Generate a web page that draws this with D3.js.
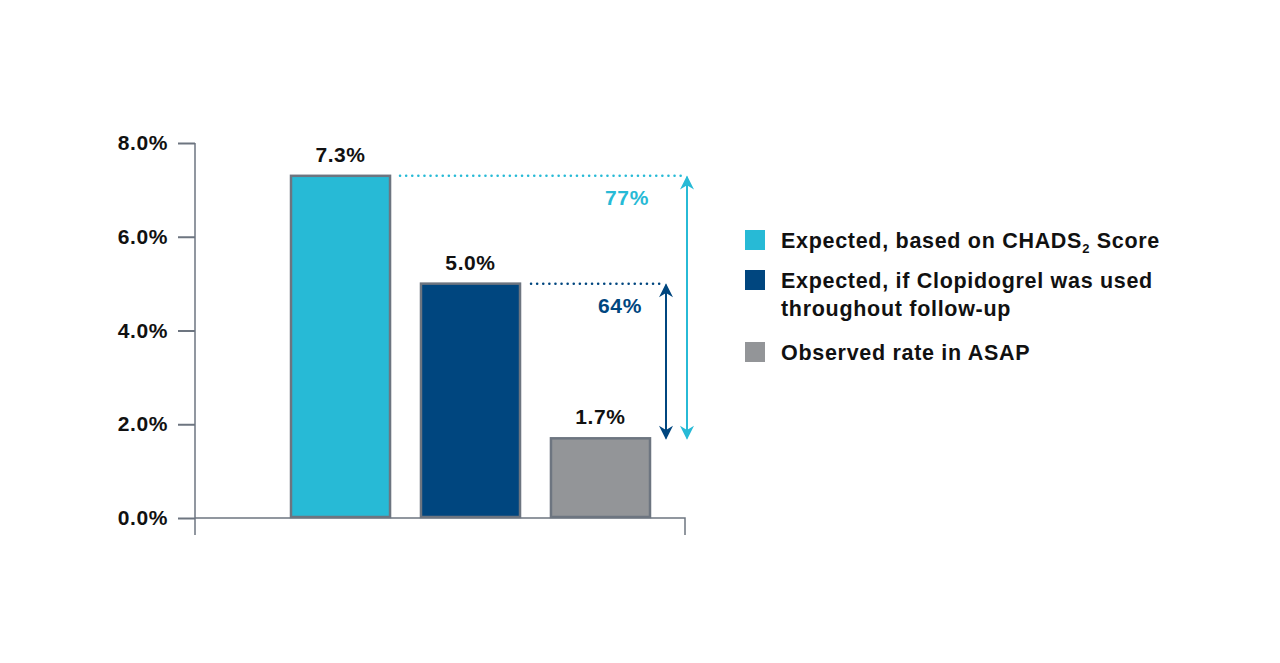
<!DOCTYPE html>
<html lang="en">
<head>
    <meta charset="UTF-8">
    <title>Stroke rates</title>
    <script src="https://cdn.jsdelivr.net/npm/d3@7/dist/d3.min.js"></script>
    <style>
        body { margin: 0; background: #fff; }
        svg text { font-family: "Liberation Sans", Arial, sans-serif; font-weight: bold; }
    </style>
</head>
<body>
<script>
    // data
    const categories = ['Expected, based on CHADS2 Score', 'Expected, if Clopidogrel was used throughout follow-up', 'Observed rate in ASAP'];
    const values = [7.3, 5.0, 1.7];
    const valueLabels = ['7.3%', '5.0%', '1.7%'];
    const yTicks = [0, 2, 4, 6, 8];
    const reductions = [{from: 0, to: 2, label: '77%'}, {from: 1, to: 2, label: '64%'}];
    const colors = ['#27bad6', '#00467f', '#939598'];

    const width = 1280, height = 663;
    const svg = d3.select('body').append('svg')
        .attr('width', width)
        .attr('height', height);

    const y = d3.scaleLinear().domain([0, 8]).range([518, 143]);
    const x = d3.scaleBand().domain(d3.range(values.length)).range([278, 663]).paddingInner(0.238).paddingOuter(0.1);

    const axisColor = '#6d7580';

    // y axis
    const yAxis = d3.axisLeft(y).tickValues(yTicks).tickSize(17).tickPadding(10)
        .tickFormat(d => d.toFixed(1) + '%');
    const gy = svg.append('g').attr('transform', 'translate(195,0)').call(yAxis);
    gy.select('.domain').remove();
    gy.selectAll('.tick line').attr('stroke', axisColor).attr('stroke-width', 2);
    gy.selectAll('.tick text').attr('font-size', 21).attr('letter-spacing', 0.6).attr('fill', '#111');
    svg.append('line').attr('x1', 195).attr('x2', 195).attr('y1', y(8)).attr('y2', 535)
        .attr('stroke', axisColor).attr('stroke-width', 1.5);
    // x baseline
    svg.append('path').attr('d', `M195,${y(0)}H685V535`)
        .attr('fill', 'none').attr('stroke', axisColor).attr('stroke-width', 1.5);

    // bars
    svg.append('g').selectAll('rect').data(values).join('rect')
        .attr('x', (d, i) => x(i))
        .attr('y', d => y(d))
        .attr('width', x.bandwidth())
        .attr('height', d => y(0) - y(d) - 1)
        .attr('fill', (d, i) => colors[i])
        .attr('stroke', axisColor)
        .attr('stroke-width', 2.5);

    svg.append('g').selectAll('text').data(values).join('text')
        .attr('x', (d, i) => x(i) + x.bandwidth() / 2)
        .attr('y', d => y(d) - 14)
        .attr('text-anchor', 'middle')
        .attr('font-size', 21)
        .attr('letter-spacing', 0.6)
        .attr('fill', '#111')
        .text((d, i) => valueLabels[i]);

    // reduction arrows
    const defs = svg.append('defs');
    colors.slice(0, 2).forEach((c, i) => {
        defs.append('marker').attr('id', 'ah' + i)
            .attr('viewBox', '0 0 10 10').attr('refX', 9).attr('refY', 5)
            .attr('markerWidth', 22).attr('markerHeight', 14).attr('markerUnits', 'userSpaceOnUse')
            .attr('orient', 'auto-start-reverse')
            .append('path').attr('d', 'M0,0L10,5L0,10L3,5Z').attr('fill', c);
    });

    const arrowX = [687, 666];
    const lineStart = [400, 531];
    const labelX = [627, 620];
    reductions.forEach((r, i) => {
        const c = colors[r.from];
        const yTop = y(values[r.from]);
        const yBot = y(values[r.to]);
        svg.append('line')
            .attr('x1', lineStart[i]).attr('x2', arrowX[i] - 2)
            .attr('y1', yTop).attr('y2', yTop)
            .attr('stroke', c).attr('stroke-width', 2.5)
            .attr('stroke-dasharray', '0.1 6').attr('stroke-linecap', 'round');
        svg.append('line')
            .attr('x1', arrowX[i]).attr('x2', arrowX[i])
            .attr('y1', yTop + 1).attr('y2', yBot)
            .attr('stroke', c).attr('stroke-width', 2)
            .attr('marker-start', `url(#ah${i})`)
            .attr('marker-end', `url(#ah${i})`);
        svg.append('text')
            .attr('x', labelX[i])
            .attr('y', yTop + 29)
            .attr('text-anchor', 'middle')
            .attr('font-size', 21)
            .attr('letter-spacing', 0.6)
            .attr('fill', c)
            .text(r.label);
    });

    // legend
    const legend = svg.append('g').attr('transform', 'translate(745,0)');
    const legendY = [230, 270, 342];
    const legendLines = [
        [['Expected, based on CHADS', '2', ' Score']],
        [['Expected, if Clopidogrel was used'], ['throughout follow-up']],
        [['Observed rate in ASAP']]
    ];
    categories.forEach((cat, i) => {
        legend.append('rect').attr('x', 0).attr('y', legendY[i])
            .attr('width', 20).attr('height', 20).attr('fill', colors[i]);
        legendLines[i].forEach((parts, j) => {
            const t = legend.append('text')
                .attr('x', 36).attr('y', legendY[i] + 18 + j * 28)
                .attr('font-size', 21.5).attr('letter-spacing', 0.7).attr('fill', '#111');
            parts.forEach((p, k) => {
                const ts = t.append('tspan').text(p);
                if (k === 1) ts.attr('font-size', 13).attr('dy', 5);
                if (k === 2) ts.attr('dy', -5);
            });
        });
    });
</script>
</body>
</html>
